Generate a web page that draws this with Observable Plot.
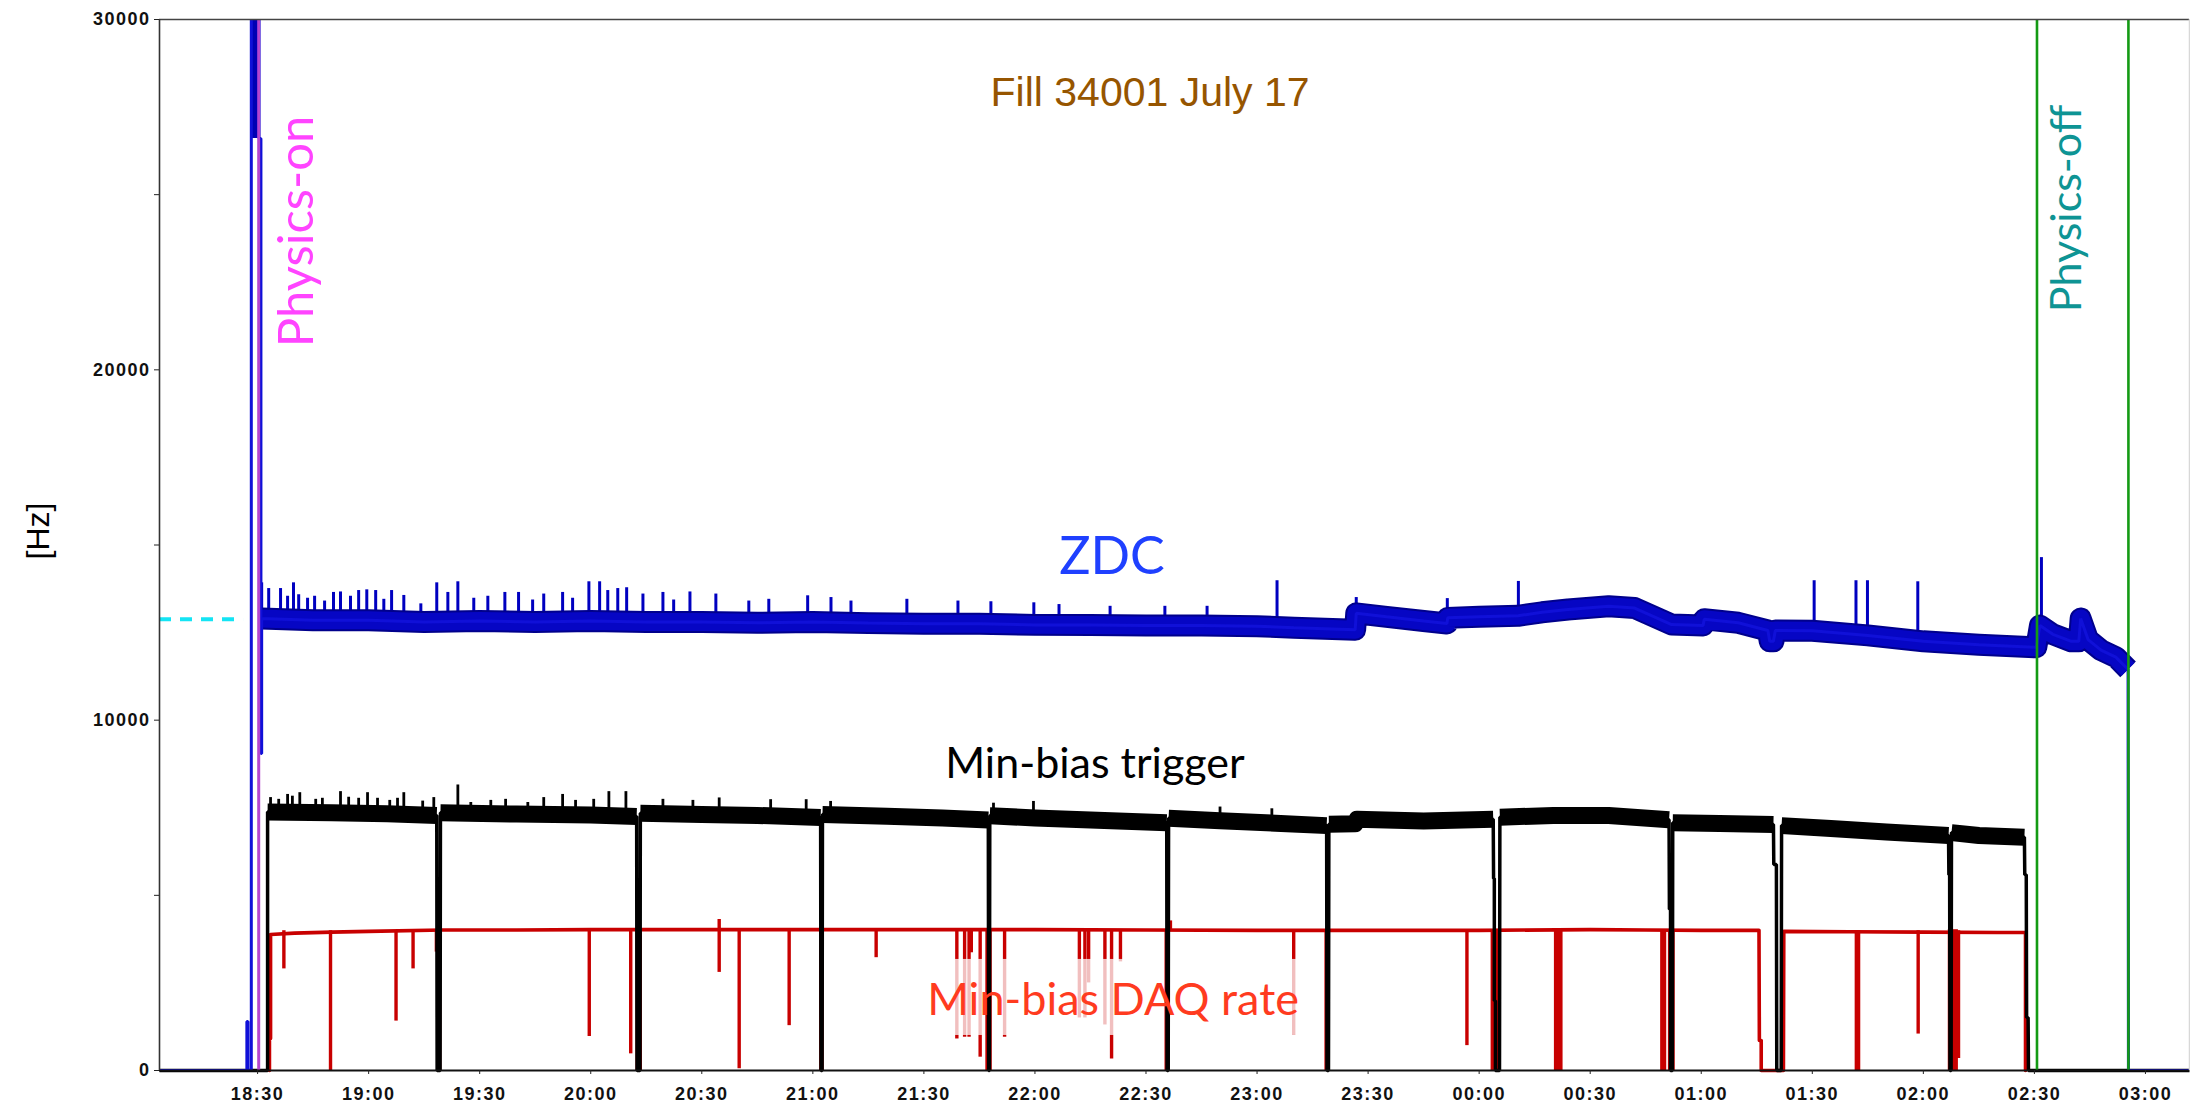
<!DOCTYPE html>
<html><head><meta charset="utf-8">
<script src="https://cdn.jsdelivr.net/npm/d3@7"></script>
<script src="https://cdn.jsdelivr.net/npm/@observablehq/plot@0.6"></script>
<style>
html,body{margin:0;padding:0;background:#fff;}
g[aria-label="x-axis tick label"] text, g[aria-label="y-axis tick label"] text{letter-spacing:1.5px;}
</style></head>
<body><div id="chart"></div>
<script>
// ---------- DATA (times are clock times of Fill 34001, July 17 -> 18) ----------
const xTickLabels = ["18:30","19:00","19:30","20:00","20:30","21:00","21:30","22:00","22:30","23:00","23:30","00:00","00:30","01:00","01:30","02:00","02:30","03:00"];
const yTickValues = [0, 10000, 20000, 30000];
const yMinorTicks = [5000, 15000, 25000];
const timeRange = ["18:03.5", "03:11.9"];

// ZDC rate [time, Hz]
const zdcPath = [
 ["18:03.5",0],["18:27.1",0],["18:27.1",1400],["18:27.4",1400],["18:27.4",0],["18:28.3",0],["18:28.3",33000],
 ["18:30.4",33000],["18:30.4",26600],["18:30.9",26600],["18:30.9",9050],["18:31.1",9050],["18:31.1",12900],
 ["18:45",12850],["19:00",12850],["19:15",12800],["19:30",12830],["19:45",12800],["20:00",12830],["20:15",12800],
 ["20:30",12800],["20:45",12780],["21:00",12800],["21:15",12770],["21:30",12750],["21:45",12750],["22:00",12720],
 ["22:15",12720],["22:30",12700],["22:45",12700],["23:00",12680],["23:10",12640],["23:26.5",12580],["23:26.8",13050],
 ["23:35",12950],["23:45",12830],["23:51.3",12760],["23:51.5",12920],["00:00",12950],["00:10.5",12980],["00:17",13080],
 ["00:24",13160],["00:35",13250],["00:42",13200],["00:52",12730],["01:00.5",12700],["01:00.8",12880],["01:10",12780],
 ["01:18",12560],["01:18.5",12250],["01:19.5",12250],["01:20",12560],["01:30",12550],["01:45",12420],["02:00",12250],
 ["02:15",12150],["02:30.5",12080],["02:31.5",12700],["02:35",12450],["02:40",12250],["02:42",12250],["02:42.5",12900],
 ["02:44.5",12300],["02:48",12000],["02:52",11800],["02:55.3",11450],["02:55.4",0],["03:11.9",0]
];
const zdcBurst = [["18:28.3",26600,33000],["18:30.4",26600,33000]];
// ZDC spikes [time, band level, peak]
const zdcSpikes = [
 ["18:31.1",12900,13920],["18:33.0",12880,13757],["18:36.2",12870,13757],["18:38.1",12870,13537],["18:39.7",12870,13920],
 ["18:41.1",12860,13580],["18:43.5",12860,13480],["18:45.4",12850,13537],["18:48.1",12850,13400],["18:50.5",12850,13646],
 ["18:52.4",12850,13660],["18:55.1",12850,13537],["18:57.3",12850,13700],["18:59.5",12850,13720],["19:01.9",12850,13700],
 ["19:04.1",12850,13450],["19:06.2",12840,13700],["19:09.5",12830,13560],["19:14.1",12800,13320],["19:18.4",12800,13920],
 ["19:21.4",12810,13646],["19:24.1",12820,13950],["19:28.4",12830,13480],["19:32.2",12830,13537],["19:36.8",12820,13646],
 ["19:40.5",12810,13646],["19:44.3",12800,13430],["19:47.3",12800,13600],["19:52.4",12810,13646],["19:55.1",12820,13480],
 ["19:59.5",12830,13950],["20:02.4",12820,13950],["20:04.6",12820,13700],["20:07.3",12810,13757],["20:09.7",12810,13780],
 ["20:14.1",12800,13600],["20:19.5",12800,13646],["20:22.4",12800,13430],["20:26.8",12800,13660],["20:33.8",12800,13600],
 ["20:42.7",12790,13400],["20:48.1",12790,13450],["20:58.6",12800,13550],["21:04.9",12790,13500],["21:10.3",12780,13400],
 ["21:25.4",12760,13450],["21:39.2",12750,13400],["21:48.1",12750,13380],["21:59.7",12720,13350],["22:06.5",12720,13300],
 ["22:20.3",12720,13250],["22:35.1",12700,13250],["22:46.5",12700,13250],["23:05.4",12670,13980],["23:26.8",12600,13500],
 ["23:51.4",12760,13470],["00:10.6",12980,13960],["01:30.5",12550,13980],["01:41.8",12440,13980],["01:44.9",12420,13980],
 ["01:58.5",12260,13950],["02:31.9",12080,14640]
];

// Min-bias trigger rate [time, Hz]
const triggerPath = [
 ["18:03.5",0],["18:32.7",0],["18:32.7",7380],["18:50",7360],["19:05",7330],["19:18.4",7280],["19:18.5",0],["19:19.3",0],
 ["19:19.4",7360],["19:40",7320],["20:00",7290],["20:12.4",7250],["20:12.5",0],["20:13.3",0],
 ["20:13.4",7340],["20:30",7310],["20:45",7280],["21:02.1",7220],["21:02.2",0],["21:02.5",0],
 ["21:02.6",7310],["21:20",7260],["21:35",7210],["21:47.4",7150],["21:47.5",0],["21:47.7",0],
 ["21:47.8",7270],["22:00",7210],["22:15",7150],["22:35.6",7070],["22:35.7",0],["22:36.0",0],
 ["22:36.1",7200],["22:50",7130],["23:05",7060],["23:18.8",6990],["23:18.9",0],["23:19.3",0],
 ["23:19.4",7030],["23:26.5",7040],["23:27",7170],["23:45",7120],["00:03.8",7170],["00:03.9",5480],["00:04.1",5480],
 ["00:04.1",1990],["00:04.4",1990],["00:04.4",0],["00:05.5",0],
 ["00:05.6",7230],["00:20",7280],["00:35",7280],["00:51.3",7160],["00:51.4",4600],["00:51.7",4600],["00:51.7",0],["00:52.2",0],
 ["00:52.3",7070],["01:05",7050],["01:19.5",7020],["01:19.6",5880],["01:20.3",5880],["01:20.4",0],["01:21.6",0],
 ["01:21.7",6990],["01:35",6910],["01:50",6810],["02:06.8",6710],["02:06.9",5590],["02:07.1",5590],["02:07.2",0],["02:07.5",0],
 ["02:07.6",6790],["02:15",6710],["02:27.3",6660],["02:27.4",5590],["02:27.8",5590],["02:27.9",1510],["02:28.3",1510],
 ["02:28.4",0],["03:11.9",0]
];
// trigger spikes [time, peak]
const triggerSpikes = [
 ["18:33.5",7790],["18:35.7",7740],["18:38.1",7880],["18:39.4",7830],["18:41.4",7930],["18:45.7",7740],["18:47.5",7770],
 ["18:52.4",7960],["18:54.6",7800],["18:57.3",7770],["18:59.7",7930],["19:02.4",7770],["19:05.7",7710],["19:07.8",7770],
 ["19:09.5",7930],["19:14.6",7690],["19:17.6",7790],["19:24.1",8150],["19:27.6",7650],["19:33.0",7710],["19:37.0",7740],
 ["19:43.0",7650],["19:47.3",7790],["19:52.4",7880],["19:55.9",7710],["20:00.8",7740],["20:04.9",7960],["20:09.5",7960],
 ["20:19.5",7740],["20:27.6",7710],["20:34.7",7780],["20:48.6",7730],["20:58.2",7730],["21:04.8",7680],["21:48.8",7630],
 ["21:59.6",7680],["22:50",7520],["23:04",7470]
];

// Min-bias DAQ rate [time, Hz]
const daqPath = [
 ["18:33.2",0],["18:33.2",910],["18:33.5",910],["18:33.5",3880],["18:40",3920],["18:50",3950],["19:00",3970],["19:20",4010],
 ["19:40",4010],["20:00",4020],["20:30",4020],["21:00",4020],["21:30",4020],["22:00",4020],["22:30",4010],["23:00",4000],
 ["23:30",4000],["00:00",4000],["00:30",4020],["00:45",4010],["01:00",4000],["01:15.6",4000],["01:15.7",856],["01:16.2",856],
 ["01:16.2",0],["01:22.2",0],["01:22.3",3970],["01:40",3960],["02:00",3950],["02:20",3940],["02:27.6",3940],["02:27.6",0]
];
const daqLevel = 3990;
// short DAQ drops [time, lowest Hz]
const daqDips = [
 ["18:37.1",2900],["18:49.7",0],["19:07.4",1410],["19:12.0",2900],["19:18.3",3380],["19:59.6",970],["20:10.8",475],
 ["20:34.7",2800],["20:34.7",4310],["20:40.1",50],["20:53.6",1280],["21:17.1",3220],["21:38.9",900],["21:41.0",950],
 ["21:42.2",950],["21:42.8",3360],["21:45.2",380],["21:51.8",950],["22:12.0",1500],["22:13.5",1500],["22:14.5",2500],
 ["22:18.9",1300],["22:20.7",330],["22:23.1",3100],["22:36.6",4270],["23:09.9",1000],["23:56.7",710],["01:41.9",0],
 ["01:42.5",0],["01:58.6",1040],["02:09.5",340]
];
// DAQ outages [start, end, lowest Hz]
const daqOutages = [
 ["19:18.6","19:19.5",0],["20:12.5","20:13.7",0],["21:02.1","21:02.8",0],["21:47.0","21:48.2",0],["22:35.4","22:36.3",0],
 ["23:18.6","23:19.3",0],["00:03.5","00:05.0",0],["00:20.6","00:22.4",0],["00:49.3","00:50.4",0],["00:51.4","00:52.7",0],
 ["02:07.0","02:09.2",0]
];

const physicsOn = ["18:30.3"];
const physicsOff = ["02:30.7","02:55.4"];
const referenceLevel = {from: "18:03.5", to: "18:26.2", value: 12880};

// ---------- helpers ----------
function T(s){
  const [h, m] = s.split(":");
  const hh = +h;
  const day = hh < 12 ? 18 : 17;
  return new Date(Date.UTC(2011, 6, day, hh, 0, 0) + (+m) * 60000);
}
const fmt = d3.utcFormat("%H:%M");
const humanist = "Lato, 'Open Sans', sans-serif";
const helv = "'Liberation Sans', Arial, Helvetica, sans-serif";
const bandZ = d => (d[1] > 10000 && d[1] < 20000) ? d[1] : NaN;

const chart = Plot.plot({
  width: 2190,
  height: 1107,
  marginLeft: 159,
  marginRight: 1,
  marginTop: 19,
  marginBottom: 37,
  style: {background: "white", fontFamily: helv, overflow: "visible"},
  x: {type: "utc", domain: timeRange.map(T)},
  y: {domain: [0, 30000]},
  marks: [
    // cyan reference level
    Plot.ruleY([referenceLevel.value], {x1: T(referenceLevel.from), x2: T(referenceLevel.to), stroke: "#14e4f4", strokeWidth: 4, strokeDasharray: "12,9"}),

    // DAQ rate
    Plot.line(daqPath, {x: d => T(d[0]), y: d => d[1], stroke: "#c80000", strokeWidth: 3.6}),
    Plot.ruleX(daqDips, {x: d => T(d[0]), y1: d => d[1], y2: daqLevel, stroke: "#c80000", strokeWidth: 3.4}),
    // faded box behind the DAQ label
    Plot.rect([{x1: "21:31", x2: "23:11.3", y1: 1000, y2: 3170}], {x1: d => T(d.x1), x2: d => T(d.x2), y1: "y1", y2: "y2", fill: "white", fillOpacity: 0.75}),
    Plot.rect(daqOutages, {x1: d => T(d[0]), x2: d => T(d[1]), y1: d => d[2], y2: daqLevel, fill: "#c80000", inset: -1}),

    // Min-bias trigger
    Plot.ruleX(triggerSpikes, {x: d => T(d[0]), y1: 7200, y2: d => d[1], stroke: "black", strokeWidth: 2.8}),
    Plot.line(triggerPath, {x: d => T(d[0]), y: d => d[1] > 6000 ? d[1] : NaN, stroke: "black", strokeWidth: 17, strokeLinecap: "butt", strokeLinejoin: "round"}),
    Plot.line(triggerPath, {x: d => T(d[0]), y: d => d[1], stroke: "black", strokeWidth: 3.5, strokeLinecap: "butt", strokeLinejoin: "miter"}),

    // ZDC
    Plot.areaY(zdcBurst, {x: d => T(d[0]), y1: d => d[1], y2: d => d[2], fill: "#0000b4", clip: true}),
    Plot.ruleX(zdcSpikes, {x: d => T(d[0]), y1: d => d[1], y2: d => d[2], stroke: "#0000c0", strokeWidth: 3}),
    Plot.line(zdcPath, {x: d => T(d[0]), y: bandZ, stroke: "#00008c", strokeWidth: 22, strokeLinecap: "butt", strokeLinejoin: "round"}),
    Plot.line(zdcPath, {x: d => T(d[0]), y: bandZ, stroke: "#0606c4", strokeWidth: 18, strokeLinecap: "butt", strokeLinejoin: "round"}),
    Plot.line(zdcPath, {x: d => T(d[0]), y: d => d[1], stroke: "#1010d8", strokeWidth: 3, strokeLinecap: "butt", strokeLinejoin: "miter", clip: true}),

    // physics on / off markers
    Plot.ruleX(physicsOn, {x: d => T(d), y1: 0, y2: 30000, stroke: "#b545cf", strokeWidth: 3}),
    Plot.ruleX(physicsOff, {x: d => T(d), y1: 0, y2: 30000, stroke: "#149a14", strokeWidth: 2.6}),

    // frame
    Plot.ruleY([0], {stroke: "#111", strokeWidth: 2}),
    Plot.ruleY([30000], {stroke: "#444", strokeWidth: 1.6}),
    Plot.ruleX([T(timeRange[0])], {stroke: "#333", strokeWidth: 1.6}),
    Plot.ruleX([T(timeRange[1])], {stroke: "#d8d8d8", strokeWidth: 1.5}),

    // axes
    Plot.axisX({ticks: xTickLabels.map(T), tickFormat: fmt, tickSize: 4, tickPadding: 13, fontSize: 18, fontWeight: "bold", fontFamily: helv, fill: "#111", stroke: "#222", label: null}),
    Plot.axisY({ticks: yTickValues, tickSize: 5, tickPadding: 4, fontSize: 18, fontWeight: "bold", fontFamily: helv, fill: "#111", stroke: "#222", label: null, tickFormat: d => String(d)}),
    Plot.axisY({ticks: yMinorTicks, tickSize: 5, tickPadding: 4, stroke: "#222", label: null, tickFormat: () => ""}),

    // texts
    Plot.text(["Fill 34001 July 17"], {x: T("22:31.1"), y: 27545, text: d => d, fill: "#965500", fontSize: 41, fontFamily: helv, textAnchor: "middle", lineAnchor: "bottom"}),
    Plot.text(["ZDC"], {x: T("22:20.8"), y: 14186, text: d => d, fill: "#1f40ff", fontSize: 52, fontFamily: humanist, textAnchor: "middle", lineAnchor: "bottom"}),
    Plot.text(["Min-bias trigger"], {x: T("22:16.2"), y: 8335, text: d => d, fill: "black", fontSize: 43, fontFamily: humanist, textAnchor: "middle", lineAnchor: "bottom"}),
    Plot.text(["Min-bias DAQ rate"], {x: T("22:21.1"), y: 1570, text: d => d, fill: "#ff3b1f", fontSize: 45, fontFamily: humanist, textAnchor: "middle", lineAnchor: "bottom"}),
    Plot.text(["Physics-on"], {x: T("18:44.9"), y: 23949, text: d => d, fill: "#ff44ff", fontSize: 49, fontFamily: humanist, textAnchor: "middle", lineAnchor: "bottom", rotate: -90}),
    Plot.text(["Physics-off"], {x: T("02:42.7"), y: 24606, text: d => d, fill: "#0e9494", fontSize: 43, fontFamily: humanist, textAnchor: "middle", lineAnchor: "bottom", rotate: -90}),
    Plot.text(["[Hz]"], {frameAnchor: "left", y: 15400, dx: -121, text: d => d, fill: "black", fontSize: 32, fontFamily: helv, textAnchor: "middle", lineAnchor: "middle", rotate: -90})
  ]
});
document.getElementById("chart").append(chart);
</script>
</body></html>
